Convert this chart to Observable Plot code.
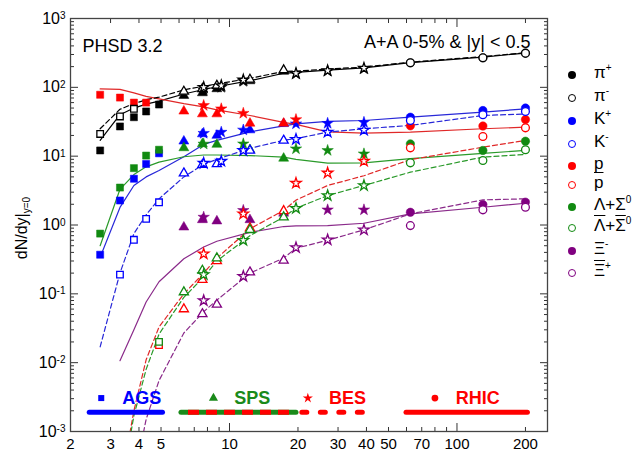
<!DOCTYPE html>
<html><head><meta charset="utf-8">
<script src="https://cdn.jsdelivr.net/npm/d3@7"></script>
<script src="https://cdn.jsdelivr.net/npm/@observablehq/plot@0.6"></script>
<style>
body{margin:0;background:#fff;font-family:"Liberation Sans",Arial,sans-serif;}
#wrap{position:relative;width:644px;height:455px;overflow:hidden;}
#ylab{position:absolute;left:22px;top:228px;transform:translate(-50%,-50%) rotate(-90deg);font-size:16px;white-space:nowrap;}
#ylab sub{font-size:10px;vertical-align:-3px;}
.row{position:absolute;left:566px;white-space:nowrap;font-size:17px;line-height:20px;height:20px;}
.mk{position:absolute;left:2px;top:6px;width:8px;height:8px;border-radius:50%;box-sizing:border-box;}
.lb{position:absolute;left:28px;top:-2px;}
.lb sup{font-size:10px;position:relative;top:-7px;vertical-align:baseline;}
.ol{text-decoration:overline;}
</style></head>
<body><div id="wrap"><div id="chart"></div><div id="ylab">dN/dy|<sub>y=0</sub></div></div>
<script>
// collision energies (sqrt(s_NN), GeV)
const E_AGS = [2.7, 3.3, 3.8, 4.3, 4.9];
const E_SPS = [6.3, 7.6, 8.8, 12.3, 17.3];
const E_BES = [7.7, 9.2, 11.5, 19.6, 27, 39];
const E_RHIC = [62.4, 130, 200];
const E_MODEL = [2.7, 3.3, 3.8, 4.3, 4.9, 6.3, 7.7, 8.8, 12.3, 17.3, 19.6, 27, 39, 62.4, 130, 200];

// experimental dN/dy (null = no point)
const piPlus  = {AGS:[12.1,27,36.8,44.6,56.3], SPS:[76,83,95,124,170], BES:[92,100,122,157,172,186], RHIC:[227,268,313]};
const piMinus = {AGS:[21,37.7,48.8,null,null], SPS:[87,95,106,130,178], BES:[100,106,128,160,175,190], RHIC:[228,269,314]};
const kPlus   = {AGS:[0.37,2.27,4.7,7.7,11.0], SPS:[16.5,21,20,24,29.6], BES:[21.5,22.3,24,29.5,30,31], RHIC:[36.8,46,50]};
const kMinus  = {AGS:[null,0.19,0.61,1.23,2.14], SPS:[5.65,7.5,7.7,12.1,16.9], BES:[7.9,8.45,12.1,17.6,22.3,24], RHIC:[33,40,44.6]};
const proton  = {AGS:[78,71,60,60,null], SPS:[45,41,41,30,30], BES:[54.5,48.8,42,34,null,null], RHIC:[27.6,27.4,34]};
const pbar    = {AGS:[null,null,null,null,0.018], SPS:[0.06,0.16,0.3,0.9,1.6], BES:[0.38,null,1.45,4.05,5.7,8.45], RHIC:[13.2,19.3,25.8]};
const lambda  = {AGS:[0.75,3.5,6.7,10.2,12.4], SPS:[13.2,15.1,14.8,12.4,9.3], BES:[15,null,15.1,12.8,12.1,10.8], RHIC:[15.1,12.1,16.5]};
const lambdaBar = {AGS:[null,null,null,null,0.02], SPS:[0.106,0.218,0.33,0.85,1.3], BES:[0.19,null,0.6,1.75,2.68,3.75], RHIC:[8.0,8.65,12.4]};
const xiMinus = {AGS:[], SPS:[0.93,1.19,1.14,1.19,1.48], BES:[1.3,null,1.63,null,1.66,1.66], RHIC:[1.53,1.98,2.15]};
const xiBar   = {AGS:[], SPS:[null,0.051,0.07,0.206,0.305], BES:[0.08,null,0.18,0.47,0.61,0.85], RHIC:[0.98,1.66,1.81]};

// PHSD 3.2 model curves on E_MODEL
const piPlusModel  = [17,40,50,57,63,80,93,102,125,160,165,178,192,228,275,315];
const piMinusModel = [25,48,58,66,72,92,104,112,135,170,172,184,197,232,280,318];
const kPlusModel   = [0.34,1.8,3.75,5.0,6.2,9.8,14.8,17,22.5,27.5,29.5,32,33,36.8,43.5,48.8];
const kMinusModel  = [0.017,0.2,0.75,1.4,2.4,5.0,7.6,9,13,17,18,22.3,25,28,39,41];
const protonModel  = [95,93.5,83,74,68,58,52,47,39,31,29,22.5,21.6,22.3,25,26.4];
const pbarModel    = [null,0.00015,0.002,0.011,0.033,0.1,0.2,0.33,0.88,1.63,2.3,3.75,5.2,8.9,13.5,16.9];
const lambdaModel  = [0.5,3.3,5.4,7.0,8.2,9.8,10.4,10.4,10.2,9.7,9.0,7.9,8.0,9.2,11.0,12.1];
const lambdaBarModel = [null,0.00012,0.0017,0.008,0.026,0.089,0.175,0.3,0.7,1.3,1.75,2.68,3.75,5.85,9.7,10.6];
const xiMinusModel = [null,0.0107,0.03,0.076,0.15,0.323,0.48,0.58,0.78,0.95,0.97,0.98,1.06,1.45,1.81,2.07];
const xiBarModel   = [null,null,0.0002,0.0015,0.0055,0.027,0.055,0.081,0.2,0.33,0.46,0.6,0.85,1.45,2.32,2.4];

const species = [
  {name:"pi+", label:"π<sup>+</sup>", color:"#000000", line:"#000000", open:false, data:piPlus, model:piPlusModel},
  {name:"pi-", label:"π<sup>-</sup>", color:"#000000", line:"#000000", open:true, data:piMinus, model:piMinusModel},
  {name:"K+", label:"K<sup>+</sup>", color:"#0000ff", line:"#2828d8", open:false, data:kPlus, model:kPlusModel},
  {name:"K-", label:"K<sup>-</sup>", color:"#0000ff", line:"#2828d8", open:true, data:kMinus, model:kMinusModel},
  {name:"p", label:"p", color:"#ff0000", line:"#e02828", open:false, data:proton, model:protonModel},
  {name:"pbar", label:"<span class='ol'>p</span>", color:"#ff0000", line:"#e02828", open:true, data:pbar, model:pbarModel},
  {name:"L", label:"Λ+Σ<sup>0</sup>", color:"#118a11", line:"#2a9a2a", open:false, data:lambda, model:lambdaModel},
  {name:"Lbar", label:"<span class='ol'>Λ</span>+<span class='ol'>Σ</span><sup>0</sup>", color:"#118a11", line:"#2a9a2a", open:true, data:lambdaBar, model:lambdaBarModel},
  {name:"Xi-", label:"Ξ<sup>-</sup>", color:"#800080", line:"#8a2a8a", open:false, data:xiMinus, model:xiMinusModel},
  {name:"Xibar", label:"<span class='ol'>Ξ</span><sup>+</sup>", color:"#800080", line:"#8a2a8a", open:true, data:xiBar, model:xiBarModel}
];

const experiments = ["AGS","SPS","BES","RHIC"];
const expEnergies = {AGS:E_AGS, SPS:E_SPS, BES:E_BES, RHIC:E_RHIC};
const expSymbol = {AGS:"square", SPS:"triangle", BES:"star", RHIC:"circle"};
const expR = {AGS:4, SPS:3.7, BES:3.6, RHIC:4.2};

// facility annotation
const facilityNames = ["AGS","SPS","BES","RHIC"];
const facilityColors = ["#0000ff","#1a8a1a","#ff0000","#ff0000"];
const facilityRange = [[2.43,5.1],[6.15,19.7],[20.9,40.5],[60,205]];
const facilityMarkE = [2.73,8.5,22.1,80];
const facilityTextE = [3.38,10.5,27.4,98.8];
const ANNOT_Y = 0.00306, BAR_Y = 0.0019;

const points = [];
for (const s of species) for (const ex of experiments) {
  (s.data[ex] || []).forEach((v, i) => { if (v != null) points.push({name:s.name, exp:ex, E:expEnergies[ex][i], v, color:s.color, open:s.open}); });
}
const curves = [];
for (const s of species) s.model.forEach((v, i) => { if (v != null) curves.push({name:s.name, E:E_MODEL[i], v, color:s.line, dashed:s.open}); });

const facilities = facilityNames.map((n, i) => ({name:n, color:facilityColors[i], x1:facilityRange[i][0], x2:facilityRange[i][1], mE:facilityMarkE[i], tE:facilityTextE[i], symbol:expSymbol[n]}));

const yMajor = [1e-3,1e-2,1e-1,1,10,100,1000];
const yMinor = []; for (let d = -3; d < 3; d++) for (let k = 2; k <= 9; k++) yMinor.push(k * Math.pow(10, d));
const xLabels = [2,3,4,5,10,20,30,40,50,70,100,200];
const xMajor = [10,100];
const xMinor = [2,3,4,5,6,7,8,9,20,30,40,50,60,70,80,90,200];

const dotMarks = [];
for (const ex of experiments) {
  dotMarks.push(Plot.dot(points.filter(d => d.exp === ex && !d.open), {x:"E", y:"v", symbol:expSymbol[ex], r:expR[ex], fill:"color", stroke:"color", strokeWidth:0.5}));
}
for (const ex of experiments) {
  dotMarks.push(Plot.dot(points.filter(d => d.exp === ex && d.open), {x:"E", y:"v", symbol:expSymbol[ex], r:expR[ex] - 0.3, fill:"white", stroke:"color", strokeWidth:1.3}));
}

const tickStroke = "#333";
const chart = Plot.plot({
  width: 644, height: 455,
  marginLeft: 70, marginRight: 97, marginTop: 18, marginBottom: 24,
  x: {type:"log", domain:[2,250]},
  y: {type:"log", domain:[1e-3,1e3]},
  color: {type:"identity"},
  symbol: {type:"identity"},
  style: {fontFamily:"'Liberation Sans', Arial, sans-serif", fontSize:"15px", color:"#000", background:"#fff"},
  marks: [
    // ticks (inward)
    Plot.axisY(yMajor, {anchor:"left", tickSize:-8, tickFormat:() => "", label:null, stroke:tickStroke}),
    Plot.axisY(yMinor, {anchor:"left", tickSize:-4, tickFormat:() => "", label:null, stroke:tickStroke}),
    Plot.axisY(yMajor, {anchor:"right", tickSize:-8, tickFormat:() => "", label:null, stroke:tickStroke}),
    Plot.axisY(yMinor, {anchor:"right", tickSize:-4, tickFormat:() => "", label:null, stroke:tickStroke}),
    Plot.axisX(xMajor, {anchor:"bottom", tickSize:-8, tickFormat:() => "", label:null, stroke:tickStroke}),
    Plot.axisX(xMinor, {anchor:"bottom", tickSize:-4, tickFormat:() => "", label:null, stroke:tickStroke}),
    Plot.axisX(xMajor, {anchor:"top", tickSize:-8, tickFormat:() => "", label:null, stroke:tickStroke}),
    Plot.axisX(xMinor, {anchor:"top", tickSize:-4, tickFormat:() => "", label:null, stroke:tickStroke}),
    // labels
    Plot.axisY(yMajor, {anchor:"left", tickSize:0, tickPadding:5, tickFormat:d => "10^" + Math.round(Math.log10(d)), label:null, fontSize:16}),
    Plot.text(xLabels, {x:d => d, frameAnchor:"bottom", lineAnchor:"top", dy:7, text:d => String(d), fontSize:15}),
    Plot.frame({stroke:"#444", strokeWidth:1.3}),
    // model curves
    Plot.line(curves.filter(d => !d.dashed), {x:"E", y:"v", z:"name", stroke:"color", strokeWidth:1.2, clip:true}),
    Plot.line(curves.filter(d => d.dashed), {x:"E", y:"v", z:"name", stroke:"color", strokeWidth:1.2, strokeDasharray:"5,3", clip:true}),
    ...dotMarks,
    // facility annotation
    Plot.ruleY(facilities.filter(d => d.name !== "BES"), {y:() => BAR_Y, x1:"x1", x2:"x2", stroke:"color", strokeWidth:5, strokeLinecap:"round"}),
    Plot.ruleY(facilities.filter(d => d.name === "SPS"), {y:() => BAR_Y, x1:"x1", x2:"x2", stroke:"#ff0000", strokeWidth:5, strokeDasharray:"11,7", strokeDashoffset:11}),
    Plot.ruleY(facilities.filter(d => d.name === "BES"), {y:() => BAR_Y, x1:"x1", x2:"x2", stroke:"color", strokeWidth:5, strokeLinecap:"round", strokeDasharray:"5,13.5"}),
    Plot.dot(facilities.filter(d => d.symbol !== "star"), {x:"mE", y:() => ANNOT_Y, symbol:"symbol", fill:"color", r:3.4}),
    Plot.dot(facilities.filter(d => d.symbol === "star"), {x:"mE", y:() => ANNOT_Y, symbol:"star", fill:"color", r:3.2}),
    Plot.text(facilities, {x:"tE", y:() => ANNOT_Y, text:"name", fill:"color", textAnchor:"start", fontWeight:"bold", fontSize:18}),
    // titles
    Plot.text(["PHSD 3.2"], {frameAnchor:"top-left", dx:12, dy:21, textAnchor:"start", fontSize:18}),
    Plot.text(["A+A 0-5% & |y| < 0.5"], {frameAnchor:"top-right", dx:-17, dy:17, textAnchor:"end", fontSize:18})
  ]
});

// superscript exponents on the y tick labels
chart.querySelectorAll('g[aria-label="y-axis tick label"] text').forEach(t => {
  const parts = t.textContent.split("^");
  if (parts.length !== 2) return;
  t.textContent = parts[0];
  const ts = document.createElementNS("http://www.w3.org/2000/svg", "tspan");
  ts.setAttribute("dy", "-0.45em");
  ts.setAttribute("font-size", "10");
  ts.textContent = parts[1];
  t.appendChild(ts);
});
document.getElementById("chart").appendChild(chart);

// legend on the right
const wrap = document.getElementById("wrap");
const legendTop = [75, 98, 121, 144, 166, 185, 207, 228, 251, 273];
species.forEach((s, i) => {
  const row = document.createElement("div");
  row.className = "row";
  row.style.top = (legendTop[i] - 10) + "px";
  const mk = document.createElement("div");
  mk.className = "mk";
  if (s.open) { mk.style.border = "1.5px solid " + s.color; mk.style.background = "#fff"; }
  else { mk.style.background = s.color; }
  const lb = document.createElement("div");
  lb.className = "lb";
  lb.innerHTML = s.label;
  row.appendChild(mk); row.appendChild(lb);
  wrap.appendChild(row);
});
</script></body></html>
